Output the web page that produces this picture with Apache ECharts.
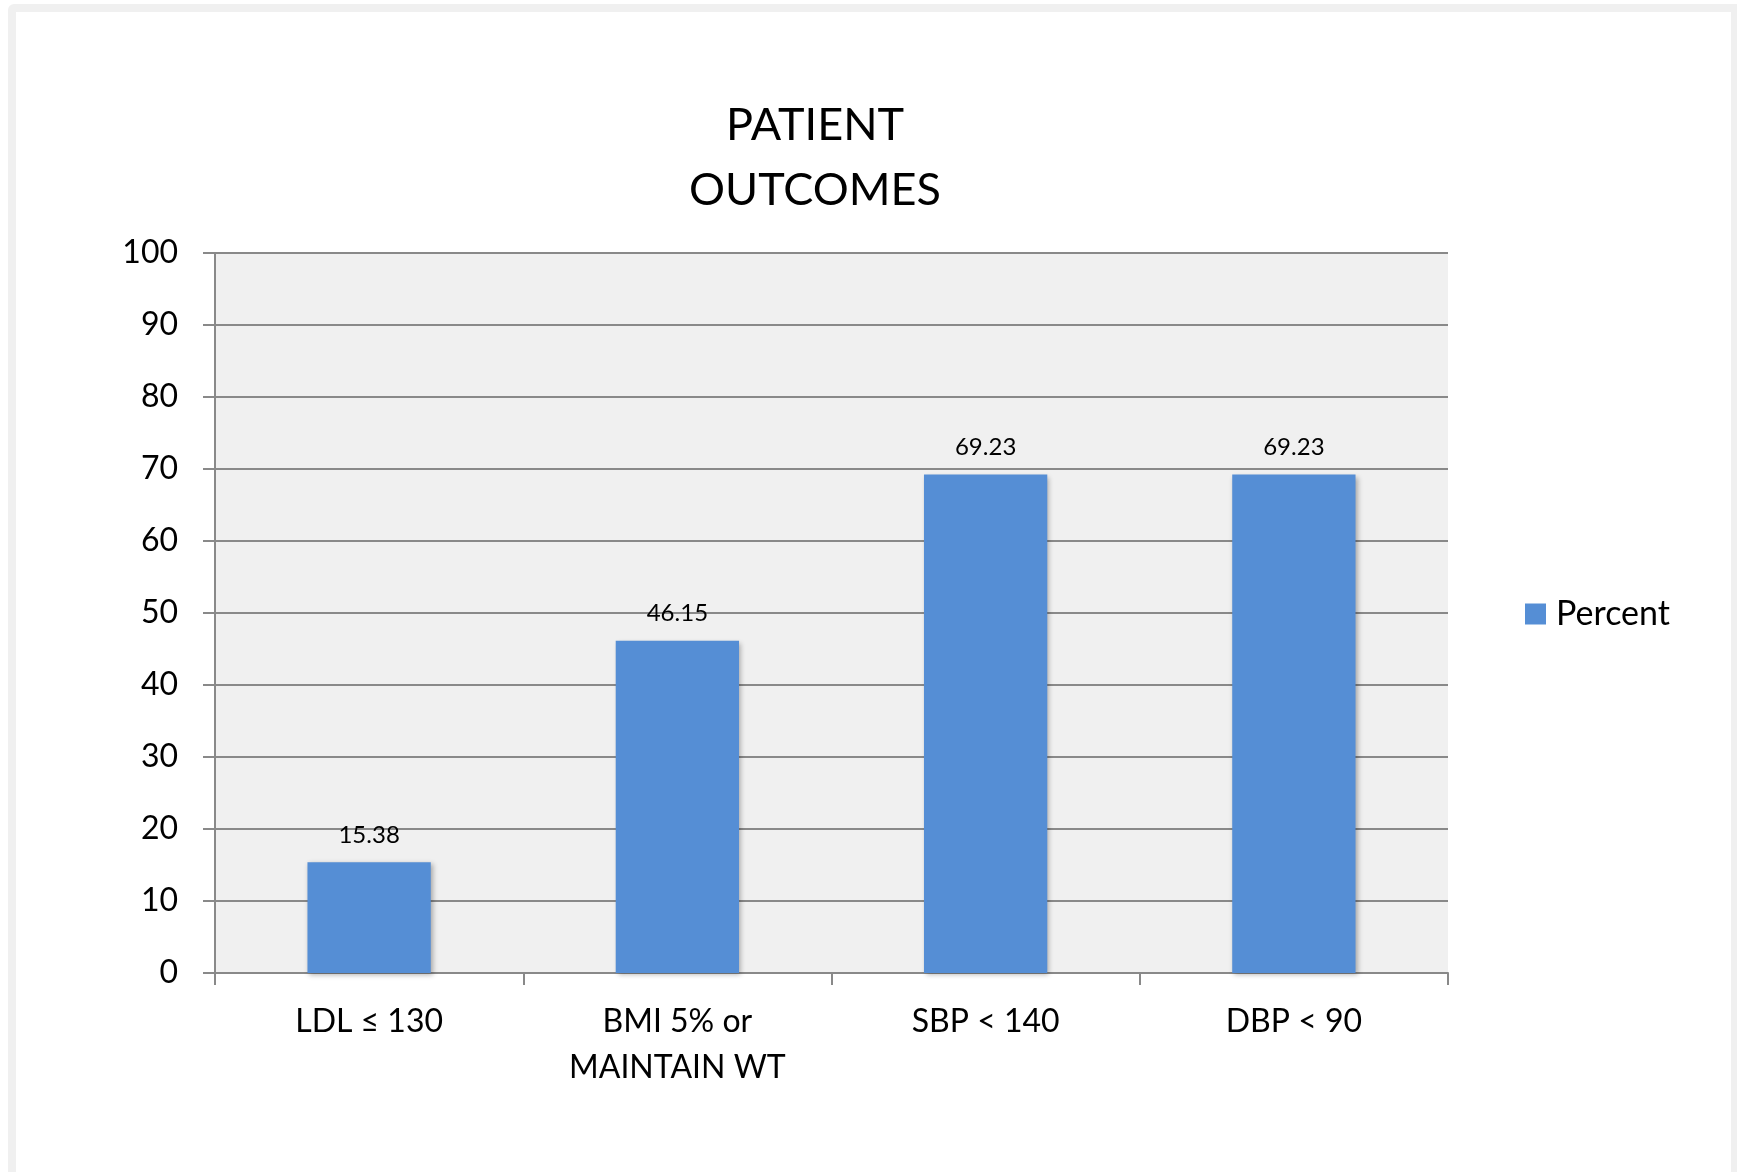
<!DOCTYPE html>
<html>
<head>
<meta charset="utf-8">
<title>Patient Outcomes</title>
<script src="https://cdn.jsdelivr.net/npm/echarts@6/dist/echarts.min.js"></script>
<style>
  html, body { margin: 0; padding: 0; background: #ffffff; }
  #chart { width: 1737px; height: 1172px; }
</style>
</head>
<body>
<div id="chart"></div>
<script>
// Outcome categories and the share of patients meeting each goal (%)
const categories = ['LDL \u2264 130', 'BMI 5% or\nMAINTAIN WT', 'SBP < 140', 'DBP < 90'];
const percentValues = [15.38, 46.15, 69.23, 69.23];
const seriesName = 'Percent';
const chartTitle = 'PATIENT\nOUTCOMES';

const FONT = 'Lato, "Open Sans", sans-serif';
const GRID_LINE = '#898989';

const chart = echarts.init(document.getElementById('chart'), null, { renderer: 'canvas' });

chart.setOption({
  backgroundColor: '#ffffff',
  animation: false,
  graphic: [
    // light frame around the figure
    {
      type: 'rect', z: -10, silent: true,
      shape: { x: 8, y: 4, width: 1740, height: 1200, r: 6 },
      style: { fill: '#f0f0f0' }
    },
    {
      type: 'rect', z: -9, silent: true,
      shape: { x: 16, y: 12, width: 1715, height: 1200 },
      style: { fill: '#ffffff' }
    }
  ],
  title: {
    text: chartTitle,
    left: 815,
    top: 93,
    padding: 0,
    textAlign: 'center',
    textStyle: {
      fontFamily: FONT,
      fontSize: 45,
      fontWeight: 'normal',
      lineHeight: 65,
      color: '#000000'
    }
  },
  legend: {
    data: [seriesName],
    orient: 'vertical',
    left: 1525,
    top: 597,
    padding: 0,
    icon: 'rect',
    itemWidth: 21,
    itemHeight: 21,
    textStyle: {
      fontFamily: FONT,
      fontSize: 34,
      lineHeight: 34,
      color: '#000000',
      padding: [0, 0, 0, 5]
    }
  },
  grid: {
    left: 215,
    top: 253,
    right: 289,
    bottom: 199,
    show: true,
    backgroundColor: '#f0f0f0',
    borderWidth: 0,
    containLabel: false
  },
  xAxis: {
    type: 'category',
    data: categories,
    axisLine: { show: true, lineStyle: { color: GRID_LINE, width: 2 } },
    axisTick: {
      show: true, alignWithLabel: false, inside: false, length: 12,
      lineStyle: { color: GRID_LINE, width: 2 }
    },
    axisLabel: {
      margin: 26,
      fontFamily: FONT,
      fontSize: 32,
      lineHeight: 46,
      color: '#000000',
      interval: 0
    },
    splitLine: { show: false }
  },
  yAxis: {
    type: 'value',
    min: 0,
    max: 100,
    interval: 10,
    axisLine: { show: true, lineStyle: { color: GRID_LINE, width: 2 } },
    axisTick: {
      show: true, inside: false, length: 12,
      lineStyle: { color: GRID_LINE, width: 2 }
    },
    axisLabel: {
      margin: 37,
      fontFamily: FONT,
      fontSize: 32,
      color: '#000000'
    },
    splitLine: { show: true, lineStyle: { color: GRID_LINE, width: 2 } }
  },
  series: [
    {
      name: seriesName,
      type: 'bar',
      data: percentValues,
      barCategoryGap: '60%',
      itemStyle: {
        color: '#558ed5',
        shadowColor: 'rgba(0, 0, 0, 0.30)',
        shadowBlur: 5,
        shadowOffsetX: 2,
        shadowOffsetY: 2
      },
      label: {
        show: true,
        position: 'top',
        distance: 15,
        fontFamily: FONT,
        fontSize: 24,
        color: '#000000',
        formatter: (p) => p.value.toFixed(2)
      }
    }
  ]
});
</script>
</body>
</html>
